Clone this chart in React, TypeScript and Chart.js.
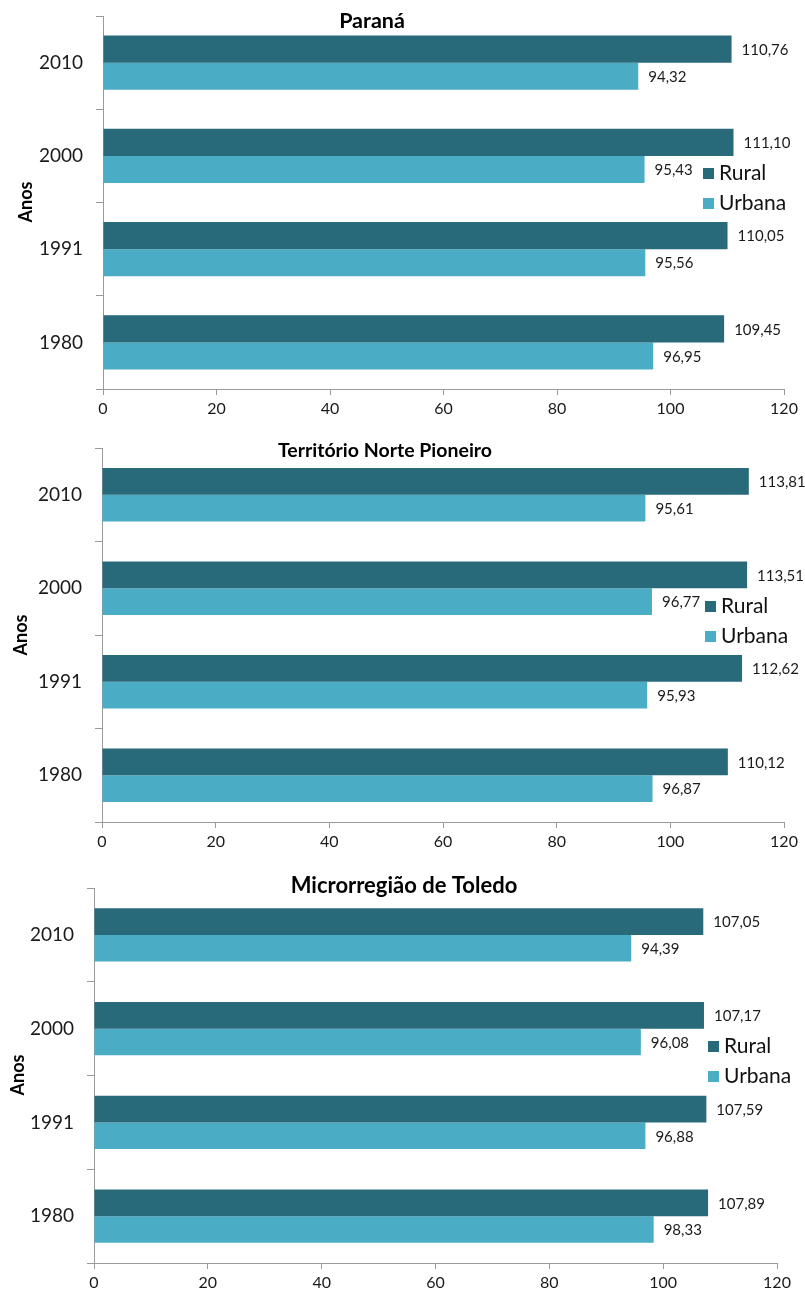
import React, { useEffect, useRef } from "react";
import { Chart, registerables } from "chart.js";

Chart.register(...registerables);

const FONT = 'Lato, "Open Sans", "DejaVu Sans", sans-serif';
Chart.defaults.font.family = FONT;

// ---- data ----
const categories = ["2010", "2000", "1991", "1980"];
const seriesNames = ["Rural", "Urbana"];
const xTickMin = 0;
const xTickMax = 120;
const xTickStep = 20;

const paranaRural = [110.76, 111.1, 110.05, 109.45];
const paranaUrbana = [94.32, 95.43, 95.56, 96.95];

const norteRural = [113.81, 113.51, 112.62, 110.12];
const norteUrbana = [95.61, 96.77, 95.93, 96.87];

const toledoRural = [107.05, 107.17, 107.59, 107.89];
const toledoUrbana = [94.39, 96.08, 96.88, 98.33];

const axisTitle = "Anos";
const panelTitles = ["Paraná", "Território Norte Pioneiro", "Microrregião de Toledo"];

const COLORS = ["#28697A", "#4BACC6"];

type Panel = {
  title: string;
  rural: number[];
  urbana: number[];
  top: number;
  height: number;
  yWidth: number;
  padTop: number;
  padRight: number;
  xHeight: number;
  titleX: number;
  titleY: number;
  titleSize: number;
  legendX: number;
  legendY: number;
  anosX: number;
  anosY: number;
  catPct: number;
};

const panels: Panel[] = [
  {
    title: panelTitles[0], rural: paranaRural, urbana: paranaUrbana,
    top: 0, height: 420, yWidth: 103, padTop: 16, padRight: 21, xHeight: 31,
    titleX: 372, titleY: 21, titleSize: 21.5, legendX: 703, legendY: 173,
    anosX: 26, anosY: 202, catPct: 0.58,
  },
  {
    title: panelTitles[1], rural: norteRural, urbana: norteUrbana,
    top: 420, height: 440, yWidth: 102, padTop: 28, padRight: 21, xHeight: 38,
    titleX: 385, titleY: 31, titleSize: 19.5, legendX: 705, legendY: 186,
    anosX: 21, anosY: 215, catPct: 0.57,
  },
  {
    title: panelTitles[2], rural: toledoRural, urbana: toledoUrbana,
    top: 860, height: 435, yWidth: 94, padTop: 28, padRight: 28, xHeight: 32,
    titleX: 404, titleY: 26, titleSize: 22, legendX: 708, legendY: 186,
    anosX: 18, anosY: 215, catPct: 0.57,
  },
];

const fmt = (v: number) => v.toFixed(2).replace(".", ",");

function PanelChart({ p }: { p: Panel }) {
  const ref = useRef<HTMLCanvasElement | null>(null);
  useEffect(() => {
    if (!ref.current) return;
    const decor = {
      id: "decor",
      afterDatasetsDraw(chart: any) {
        const ctx = chart.ctx;
        ctx.save();
        ctx.font = `15px ${FONT}`;
        ctx.fillStyle = "#1a1a1a";
        ctx.textAlign = "left";
        ctx.textBaseline = "middle";
        chart.data.datasets.forEach((ds: any, di: number) => {
          const meta = chart.getDatasetMeta(di);
          meta.data.forEach((el: any, i: number) => {
            ctx.fillText(fmt(ds.data[i]), el.x + 10, el.y + 1);
          });
        });
        ctx.restore();
      },
      afterDraw(chart: any) {
        const ctx = chart.ctx;
        ctx.save();
        // title
        ctx.font = `bold ${p.titleSize}px ${FONT}`;
        ctx.fillStyle = "#000";
        ctx.textAlign = "center";
        ctx.textBaseline = "middle";
        ctx.fillText(p.title, p.titleX, p.titleY);
        // legend
        ctx.font = `21px ${FONT}`;
        ctx.textAlign = "left";
        chart.data.datasets.forEach((ds: any, i: number) => {
          const y = p.legendY + i * 30;
          ctx.fillStyle = ds.backgroundColor;
          ctx.fillRect(p.legendX, y - 5, 11, 11);
          ctx.fillStyle = "#111";
          ctx.fillText(ds.label, p.legendX + 16, y);
        });
        // Anos
        ctx.translate(p.anosX, p.anosY);
        ctx.rotate(-Math.PI / 2);
        ctx.font = `bold 18px ${FONT}`;
        ctx.fillStyle = "#000";
        ctx.textAlign = "center";
        ctx.fillText(axisTitle, 0, 0);
        ctx.restore();
      },
    };
    const chart = new Chart(ref.current, {
      type: "bar",
      data: {
        labels: categories,
        datasets: [
          { label: seriesNames[0], data: p.rural, backgroundColor: COLORS[0], categoryPercentage: p.catPct, barPercentage: 1 },
          { label: seriesNames[1], data: p.urbana, backgroundColor: COLORS[1], categoryPercentage: p.catPct, barPercentage: 1 },
        ],
      },
      options: {
        indexAxis: "y",
        responsive: false,
        animation: false,
        layout: { padding: { top: p.padTop, right: p.padRight, left: 0, bottom: 0 } },
        plugins: { legend: { display: false }, tooltip: { enabled: false }, title: { display: false } },
        scales: {
          x: {
            min: xTickMin,
            max: xTickMax,
            ticks: { stepSize: xTickStep, color: "#1a1a1a", font: { size: 16 }, padding: 4 },
            grid: { drawOnChartArea: false, tickLength: 6, color: "#9a9a9a" },
            border: { color: "#9a9a9a" },
            afterFit: (s: any) => {
              s.height = p.xHeight;
              s.paddingLeft = 0;
              s.paddingRight = 0;
            },
          },
          y: {
            ticks: { color: "#1a1a1a", font: { size: 19 }, padding: 13 },
            grid: { drawOnChartArea: false, tickLength: 7, color: "#9a9a9a", offset: true },
            border: { color: "#9a9a9a" },
            afterFit: (s: any) => {
              s.width = p.yWidth;
              s.paddingTop = 0;
              s.paddingBottom = 0;
            },
          },
        },
      } as any,
      plugins: [decor],
    });
    return () => chart.destroy();
  }, [p]);
  return (
    <canvas
      ref={ref}
      width={805}
      height={p.height}
      style={{ position: "absolute", left: 0, top: p.top, width: 805, height: p.height }}
    />
  );
}

export default function App() {
  return (
    <div style={{ position: "absolute", left: 0, top: 0, width: 805, height: 1295, background: "#fff" }}>
      {panels.map((p, i) => (
        <PanelChart key={i} p={p} />
      ))}
    </div>
  );
}
